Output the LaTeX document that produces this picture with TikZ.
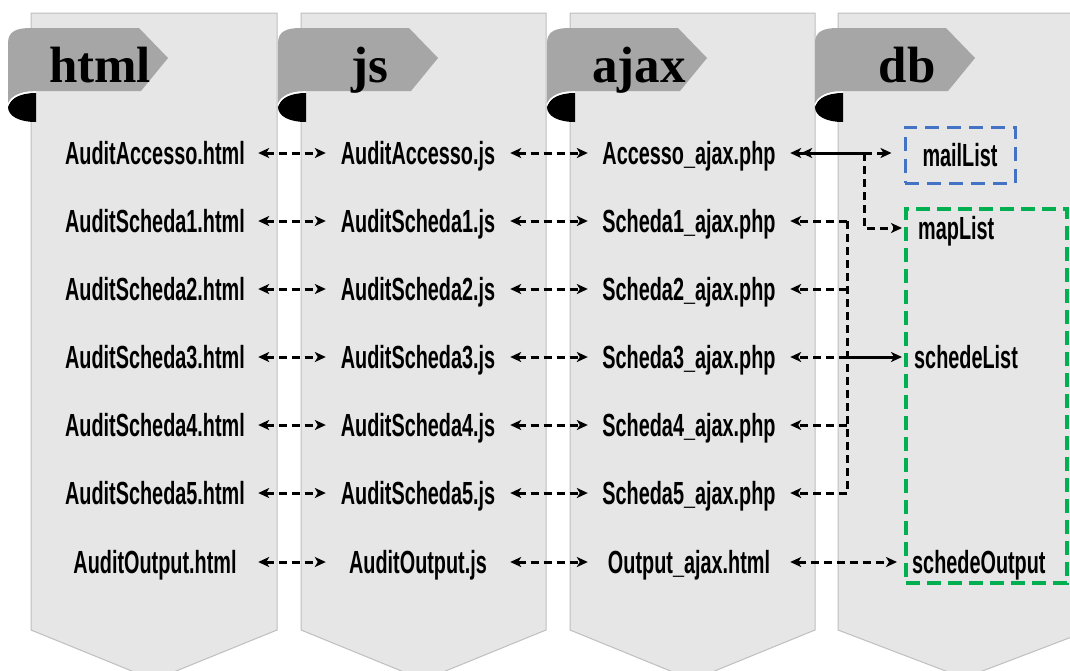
\documentclass[tikz,border=0pt]{standalone}
\usepackage{fontspec}
\usetikzlibrary{arrows.meta}

\newfontfamily\lblfamily[FakeStretch=0.62]{Liberation Sans}
\newfontfamily\hdrfamily{Liberation Serif}

\definecolor{colfill}{HTML}{E6E6E6}
\definecolor{coledge}{HTML}{BFBFBF}
\definecolor{bannergrey}{HTML}{A6A6A6}
\definecolor{mailblue}{HTML}{4472C4}
\definecolor{groupgreen}{HTML}{00B050}

% a light column with a chevron at its foot: left x, right x, depth of the point
\newcommand\stripcolumn[3]{%
  \filldraw[fill=colfill, draw=coledge, line width=1pt]
    (#1,13) -- (#2,13) -- (#2,630) -- ({(#1+#2)/2},{630+#3}) -- (#1,630) -- cycle;}

% curled ribbon heading at the top of a column: column left x, node name, title
\newcommand\ribbonhead[3]{%
  \fill[black] (#1-23,107) .. controls (#1-20,97) and (#1-9,93) .. (#1+5,93)
    -- (#1+5,122) .. controls (#1-12,122) and (#1-23,116) .. (#1-23,107) -- cycle;
  \fill[bannergrey] (#1-23,104) -- (#1-23,43) .. controls (#1-23,31) and (#1-14,28) .. (#1,28)
    -- (#1+108,28) -- (#1+137,58) -- (#1+110,91) -- (#1+5,91)
    .. controls (#1-9,91) and (#1-20,95) .. (#1-23,104) -- cycle;
  \draw[white, line width=1.2pt] (#1+5,92) .. controls (#1-9,92) and (#1-20,96) .. (#1-23,105);
  \node[hdr, anchor=base] (#2) at (#1+69,82) {#3};}

\tikzset{
  hdr/.style={font=\hdrfamily\bfseries\fontsize{51pt}{51pt}\selectfont, inner sep=0pt},
  lbl/.style={font=\lblfamily\bfseries\fontsize{32pt}{33pt}\selectfont,
              inner sep=0pt, text height=22pt, text depth=0pt},
  htmllbl/.style={lbl, text width=206pt, align=center},
  jslbl/.style={lbl, text width=184pt, align=center},
  ajaxlbl/.style={lbl, text width=202pt, align=center},
  conn/.style={line width=3pt, dash pattern=on 8pt off 5pt,
               >={Stealth[length=11pt, width=10pt, inset=3pt]}},
  solidconn/.style={line width=3pt, >={Stealth[length=11pt, width=10pt, inset=3pt]}},
}

\begin{document}
\begin{tikzpicture}[x=1pt, y=-1pt]
\path[use as bounding box] (0,0) rectangle (1070,670);
\clip (0,0) rectangle (1070,670);
\fill[white] (0,0) rectangle (1070,670);

% columns
\stripcolumn{31}{277}{50}
\stripcolumn{301}{546}{50}
\stripcolumn{570}{815}{50}
\stripcolumn{838}{1090}{48}

% headings
\ribbonhead{31}{thtml}{html}
\ribbonhead{301}{tjs}{js}
\ribbonhead{570}{tajax}{ajax}
\ribbonhead{838}{tdb}{db}

% file names of the three front-end layers
\foreach \i/\y/\h/\j/\a in {
  1/153/AuditAccesso.html/AuditAccesso.js/Accesso\_ajax.php,
  2/221/AuditScheda1.html/AuditScheda1.js/Scheda1\_ajax.php,
  3/289/AuditScheda2.html/AuditScheda2.js/Scheda2\_ajax.php,
  4/357/AuditScheda3.html/AuditScheda3.js/Scheda3\_ajax.php,
  5/425/AuditScheda4.html/AuditScheda4.js/Scheda4\_ajax.php,
  6/493/AuditScheda5.html/AuditScheda5.js/Scheda5\_ajax.php,
  7/562/AuditOutput.html/AuditOutput.js/Output\_ajax.html}{
  \node[htmllbl] (hm\i) at (155,\y) {\h};
  \node[jslbl]   (js\i) at (418,\y) {\j};
  \node[ajaxlbl] (ax\i) at (689,\y) {\a};
  \draw[conn, <->] (hm\i.east) -- (js\i.west);
  \draw[conn, <->] (js\i.east) -- (ax\i.west);
}

% database tables
\node[lbl, draw=mailblue, line width=3pt, dash pattern=on 14pt off 8pt,
      minimum width=110pt, minimum height=56pt] (mail) at (960,155) {mailList};
\node[draw=groupgreen, line width=3.5pt, dash pattern=on 14pt off 7pt,
      minimum width=161pt, minimum height=374pt, inner sep=0pt] (dbgrp) at (986.5,396) {};
\node[lbl, anchor=west] (map)   at (918,228) {mapList};
\node[lbl, anchor=west] (slist) at (914,357) {schedeList};
\node[lbl, anchor=west] (sout)  at (912,562) {schedeOutput};

% branch points of the ajax-to-db links
\coordinate (fork) at (864,0);
\coordinate (bus)  at (847,0);

% Accesso_ajax.php to mailList and mapList
\draw[solidconn, {Stealth[length=11pt, width=10pt, inset=3pt]Stealth[length=11pt, width=10pt, inset=3pt]}-]
  (ax1.east) -- (ax1.east -| fork);
\draw[conn, ->, shorten >=12pt] (ax1.east -| fork) -- (ax1.east -| mail.west);
\draw[conn, ->, shorten >=16pt] (ax1.east -| fork) |- (map.west);

% Scheda*_ajax.php share one line to schedeList
\draw[conn] (ax2.east -| bus) -- (ax6.east -| bus);
\foreach \i in {2,3,4,5,6}{
  \draw[conn, ->] (ax\i.east -| bus) -- (ax\i.east);
}
\draw[solidconn, ->, shorten >=12pt] (ax4.east -| bus) -- (ax4.east -| slist.west);

% Output_ajax.html to schedeOutput
\draw[conn, <->, shorten >=15pt] (ax7.east) -- (ax7.east -| sout.west);
\end{tikzpicture}
\end{document}
